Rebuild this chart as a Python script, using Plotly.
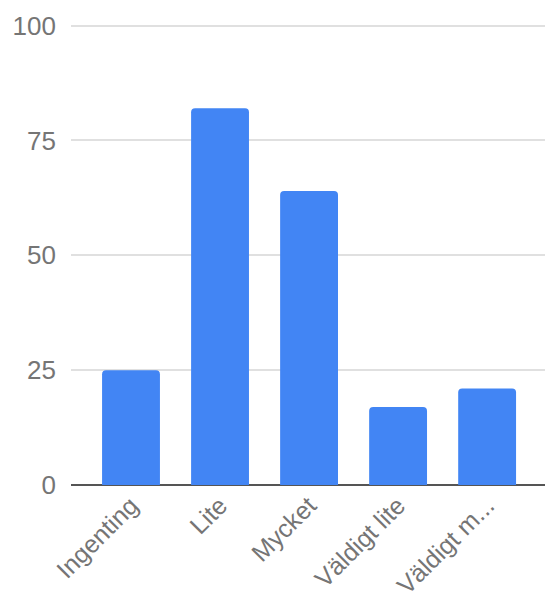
import plotly.graph_objects as go

categories = ["Ingenting", "Lite", "Mycket", "Väldigt lite", "Väldigt m..."]
values = [25, 82, 64, 17, 21]
y_ticks = [0, 25, 50, 75, 100]

BAR_COLOR = "#4285F4"
TEXT_COLOR = "#757575"

fig = go.Figure(
    go.Bar(
        x=categories,
        y=values,
        marker=dict(color=BAR_COLOR, line=dict(width=0)),
        hoverinfo="x+y",
    )
)

fig.update_layout(
    width=545,
    height=604,
    margin=dict(l=71, r=0, t=21, b=119),
    paper_bgcolor="white",
    plot_bgcolor="white",
    bargap=0.35,
    barcornerradius=4,
    font=dict(family="Liberation Sans, Arial, sans-serif", size=26, color=TEXT_COLOR),
    showlegend=False,
)

fig.update_xaxes(
    range=[-0.674, 4.65],
    tickangle=-45,
    showgrid=False,
    showline=False,
    ticks="",
    ticklabelstandoff=0,
    automargin=False,
    tickfont=dict(size=25, color=TEXT_COLOR),
)

fig.update_yaxes(
    range=[0, 101],
    tickvals=y_ticks,
    showgrid=True,
    gridcolor="#e0e0e0",
    gridwidth=2,
    zeroline=True,
    zerolinecolor="#555555",
    zerolinewidth=2,
    showline=False,
    ticks="",
    ticklabelstandoff=14,
    automargin=False,
    tickfont=dict(size=26, color=TEXT_COLOR),
)

fig.write_html("out.html")
